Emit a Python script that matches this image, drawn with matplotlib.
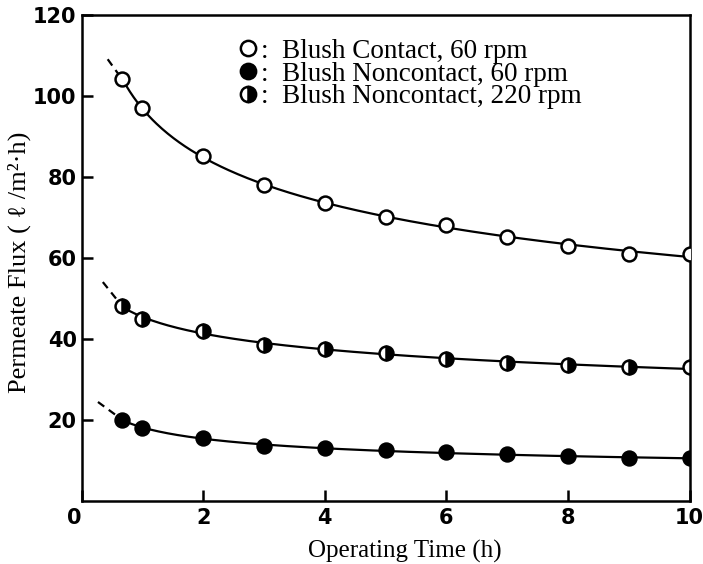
import numpy as np
import matplotlib
matplotlib.use("Agg")
import matplotlib.pyplot as plt
from matplotlib.lines import Line2D

# data
t = [0.67, 1, 2, 3, 4, 5, 6, 7, 8, 9, 10]
contact_60 = [104, 97, 85, 78, 73.5, 70, 68, 65, 63, 61, 61]
noncontact_220 = [48, 45, 42, 38.5, 37.5, 36.5, 35, 34, 33.5, 33, 33]
noncontact_60 = [20, 18, 15.5, 13.5, 13, 12.5, 12, 11.5, 11, 10.5, 10.5]
# start of the dashed (extrapolated) part of each curve
dash_t = [0.43, 0.35, 0.27]
dash_y = [109, 54, 24.4]

labels = [":  Blush Contact, 60 rpm",
          ":  Blush Noncontact, 60 rpm",
          ":  Blush Noncontact, 220 rpm"]

serif = ["Liberation Serif", "DejaVu Serif"]

fig = plt.figure(figsize=(7.03, 5.64), dpi=100)
ax = fig.add_axes([0.116, 0.112, 0.865, 0.862])

series = [(contact_60, dict(marker="o", mfc="white", mec="black")),
          (noncontact_220, dict(marker="o", mfc="black", mec="black",
                                fillstyle="right", markerfacecoloralt="white")),
          (noncontact_60, dict(marker="o", mfc="black", mec="black"))]

lt = np.log(t)
for i, (y, st) in enumerate(series):
    # smooth fitted curve through the points (in log time)
    c = np.polyfit(lt, y, 2)
    ts = np.linspace(t[0], t[-1], 300)
    ax.plot(ts, np.polyval(c, np.log(ts)), color="black", lw=1.6, zorder=2)
    ax.plot([dash_t[i], t[0]], [dash_y[i], y[0]], color="black", lw=1.6,
            ls=(0, (3.5, 2.5)), zorder=2)
    ax.plot(t, y, ls="none", ms=10, mew=1.8, zorder=3, **st)

ax.set_xlim(0, 10)
ax.set_ylim(0, 120)
ax.set_xticks([0, 2, 4, 6, 8, 10])
ax.set_yticks([20, 40, 60, 80, 100, 120])
ax.tick_params(axis="x", direction="in", length=8, width=1.8, pad=5)
ax.tick_params(axis="y", direction="in", length=8, width=1.8, pad=3.5)
for lab in ax.get_xticklabels() + ax.get_yticklabels():
    lab.set_fontsize(15)
    lab.set_fontweight("bold")
ax.get_xticklabels()[0].set_horizontalalignment("right")
for s in ax.spines.values():
    s.set_linewidth(1.8)

ax.set_xlabel("Operating Time (h)", family=serif, fontsize=18)
ax.xaxis.set_label_coords(0.532, -0.08)
ax.set_ylabel("Permeate Flux ( \u2113 /m\u00b2\u00b7h)", family=serif, fontsize=19)
ax.yaxis.set_label_coords(-0.083, 0.49)

handles = [Line2D([], [], ls="none", ms=11, mew=1.8, **series[0][1]),
           Line2D([], [], ls="none", ms=11, mew=1.8, **series[2][1]),
           Line2D([], [], ls="none", ms=11, mew=1.8, **series[1][1])]
ax.legend(handles, labels, loc="upper left", bbox_to_anchor=(0.22, 0.995),
          frameon=False, handlelength=0.8, handletextpad=0.1, labelspacing=-0.08,
          borderpad=0.3, prop={"family": serif, "size": 19.5})

fig.savefig("out.png", dpi=100)
